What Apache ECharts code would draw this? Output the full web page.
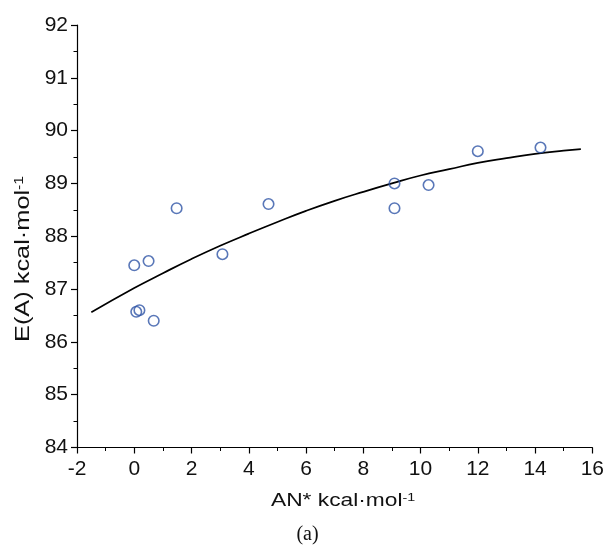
<!DOCTYPE html>
<html>
<head>
<meta charset="utf-8">
<script src="https://cdn.jsdelivr.net/npm/echarts@6/dist/echarts.min.js"></script>
<style>
html,body{margin:0;padding:0;background:#fff;}
#chart{width:607px;height:548px;}
</style>
</head>
<body>
<div id="chart"></div>
<script>
// Measured points: AN* (x) and E(A) (y)
var pointX = [0.0, 0.50, 0.07, 0.18, 0.68, 1.48, 3.08, 4.69, 9.09, 9.09, 10.28, 12.0, 14.19];
var pointY = [87.45, 87.53, 86.57, 86.60, 86.40, 88.53, 87.66, 88.61, 89.00, 88.53, 88.97, 89.61, 89.68];
// Fitted curve
var curveX = [-1.5, 0, 1, 2, 3, 4, 5, 6, 7, 8, 9, 10, 11, 12, 13, 14, 15, 15.6];
var curveY = [86.56, 87.02, 87.30, 87.57, 87.82, 88.05, 88.27, 88.48, 88.67, 88.84, 89.00, 89.15, 89.27, 89.39, 89.48, 89.56, 89.62, 89.65];
var xTicks = {min: -2, max: 16, interval: 2};
var yTicks = {min: 84, max: 92, interval: 1};
var xTitle = 'AN* kcal·mol';
var yTitle = 'E(A) kcal·mol';
var sup = '-1';
var caption = '(a)';

var pts = pointX.map(function(x, i){ return [x, pointY[i]]; });
var crv = curveX.map(function(x, i){ return [x, curveY[i]]; });

var font = 'Liberation Sans, Arial, sans-serif';
var axisCommon = {
  axisLine: {show: true, onZero: false, lineStyle: {color: '#000', width: 1.2}},
  axisTick: {show: true, inside: false, length: 6, lineStyle: {color: '#000', width: 1.2}},
  minorTick: {show: true, splitNumber: 2, length: 3.5, lineStyle: {color: '#000', width: 1}},
  splitLine: {show: false},
  axisLabel: {color: '#111', fontSize: 21, fontFamily: font}
};
var richName = {
  a: {fontSize: 17.5, fontFamily: font, fill: '#111', color: '#111'},
  b: {fontSize: 11, fontFamily: font, fill: '#111', color: '#111', verticalAlign: 'top', lineHeight: 17}
};

var chart = echarts.init(document.getElementById('chart'), null, {renderer: 'canvas'});
chart.setOption({
  backgroundColor: '#fff',
  animation: false,
  grid: {left: 77, right: 13, top: 25, bottom: 100.5},
  xAxis: Object.assign({
    type: 'value', min: xTicks.min, max: xTicks.max, interval: xTicks.interval
  }, axisCommon, {axisLabel: Object.assign({}, axisCommon.axisLabel, {margin: 11})}),
  yAxis: Object.assign({
    type: 'value', min: yTicks.min, max: yTicks.max, interval: yTicks.interval
  }, axisCommon, {axisLabel: Object.assign({}, axisCommon.axisLabel, {margin: 9})}),
  graphic: [{
    type: 'text', x: 271, y: 501, scaleX: 1.3,
    style: {text: '{a|' + xTitle + '}{b|' + sup + '}', rich: richName, align: 'left', verticalAlign: 'middle'}
  }, {
    type: 'text', x: 24, y: 342, rotation: Math.PI / 2, scaleX: 1.3,
    style: {text: '{a|' + yTitle + '}{b|' + sup + '}', rich: {
      a: {fontSize: 19.5, fontFamily: font, fill: '#111', color: '#111'},
      b: {fontSize: 12, fontFamily: font, fill: '#111', color: '#111', verticalAlign: 'top', lineHeight: 19}
    }, align: 'left', verticalAlign: 'middle'}
  }, {
    type: 'text', x: 307.5, y: 535,
    style: {text: caption, font: '20px "Liberation Serif", "Times New Roman", serif', fill: '#111', align: 'center', verticalAlign: 'middle'}
  }],
  series: [{
    type: 'line', data: crv, smooth: true, showSymbol: false,
    lineStyle: {color: '#000', width: 1.7}, z: 2
  }, {
    type: 'scatter', data: pts, symbol: 'circle', symbolSize: 10.5,
    itemStyle: {color: 'rgba(255,255,255,0)', borderColor: '#2f55a6', borderWidth: 1.6}, z: 3
  }]
});
</script>
</body>
</html>
